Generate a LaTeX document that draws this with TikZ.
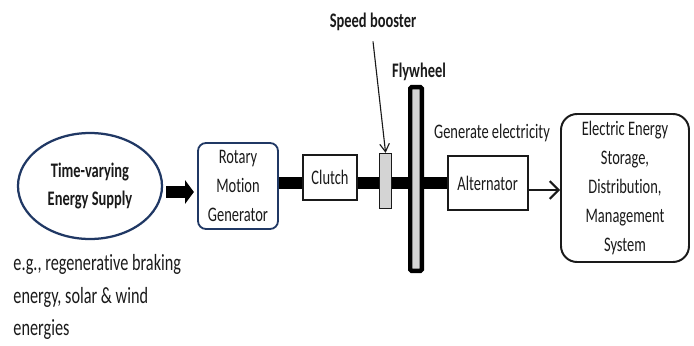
\documentclass[tikz,border=0pt]{standalone}
\usepackage{fontspec}
\setmainfont{Carlito}[FakeStretch=0.7, Ligatures=NoCommon]
\usetikzlibrary{arrows.meta, positioning, shapes.geometric, backgrounds}
\definecolor{Navy}{HTML}{203864}
\definecolor{Gear}{HTML}{D4D4D4}
\definecolor{Ink}{HTML}{1A1A1A}

\begin{document}
\begin{tikzpicture}[
    every node/.style={font=\fontsize{14.7}{20.6}\selectfont, text=Ink},
    supply/.style={ellipse, draw=Navy, line width=1.6pt, minimum width=3.6cm,
        minimum height=2.65cm, align=center,
        font=\bfseries\fontsize{14.7}{20.6}\selectfont},
    genbox/.style={draw=Navy, line width=1.3pt, rounded corners=0.2cm, fill=white,
        minimum width=2.0cm, minimum height=2.15cm, inner sep=0pt, align=center},
    block/.style={draw=Ink, line width=1.4pt, fill=white, inner sep=0pt, align=center},
    storebox/.style={draw=Ink, line width=1.4pt, rounded corners=0.4cm, fill=white,
        minimum width=3.2cm, minimum height=3.7cm, inner sep=0pt, align=center},
    booster/.style={draw=Ink, line width=0.8pt, fill=Gear, inner sep=0pt,
        minimum width=0.3cm, minimum height=1.38cm},
    flywheel/.style={draw=black, line width=0.11cm, fill=Gear, rounded corners=1pt,
        inner sep=0pt, minimum width=0.29cm, minimum height=4.59cm},
    tag/.style={font=\bfseries\fontsize{14.7}{20.6}\selectfont},
    shaft/.style={line width=0.3cm, black},
    bigarr/.style={-{Triangle[length=2.2mm, width=5.8mm]}, line width=0.3cm, black},
    arr/.style={-{Straight Barb[length=2.2mm, width=4.4mm]}, line width=1.5pt, Ink},
    thinarr/.style={-{Straight Barb[length=2mm, width=2.4mm]}, line width=0.8pt, Ink},
]
\useasboundingbox (0,0) rectangle (17.35,8.625);

% === Source ===
\node[supply] (supply) at (2.25, 3.975) {Time-varying\\Energy Supply};
\node[anchor=west, align=left, inner sep=0pt,
    font=\fontsize{16.5}{23.4}\selectfont] (examples) at (0.33, 1.2)
    {e.g., regenerative braking\\energy, solar \& wind\\energies};

% === Drive train ===
\node[genbox] (rmg) at (5.95, 3.975) {Rotary\\Motion\\Generator};
\node[block, minimum width=1.35cm, minimum height=1.12cm] (clutch) at (8.25, 4.19) {Clutch};
\node[booster] (booster) at (9.64, 4.1) {};
\node[flywheel] (fly) at (10.4, 4.15) {};
\node[block, minimum width=2.0cm, minimum height=1.33cm] (alt) at (12.19, 4.05) {Alternator};

% === Storage ===
\node[storebox] (store) at (15.625, 3.925)
    {Electric Energy\\Storage,\\Distribution,\\Management\\System};

% === Labels ===
\node[tag] (sblabel) at (9.325, 8.075) {Speed booster};
\node[tag] (flylabel) at (10.475, 6.825) {Flywheel};
\node (genlabel) at (12.3, 5.3) {Generate electricity};

% === Connectors ===
\begin{scope}[on background layer]
\draw[shaft] (rmg.east |- alt.west) -- (alt.west);
\end{scope}

\draw[bigarr, shorten <=0.08cm, shorten >=0.08cm]
    ([yshift=-0.15cm]supply.east) -- ([yshift=-0.15cm]rmg.west);

\coordinate (altout) at ([yshift=-0.175cm]alt.east);
\draw[arr] (altout) -- (altout -| store.west);

\draw[thinarr] ([yshift=-4pt]sblabel.south) -- (booster.north);

\end{tikzpicture}
\end{document}
